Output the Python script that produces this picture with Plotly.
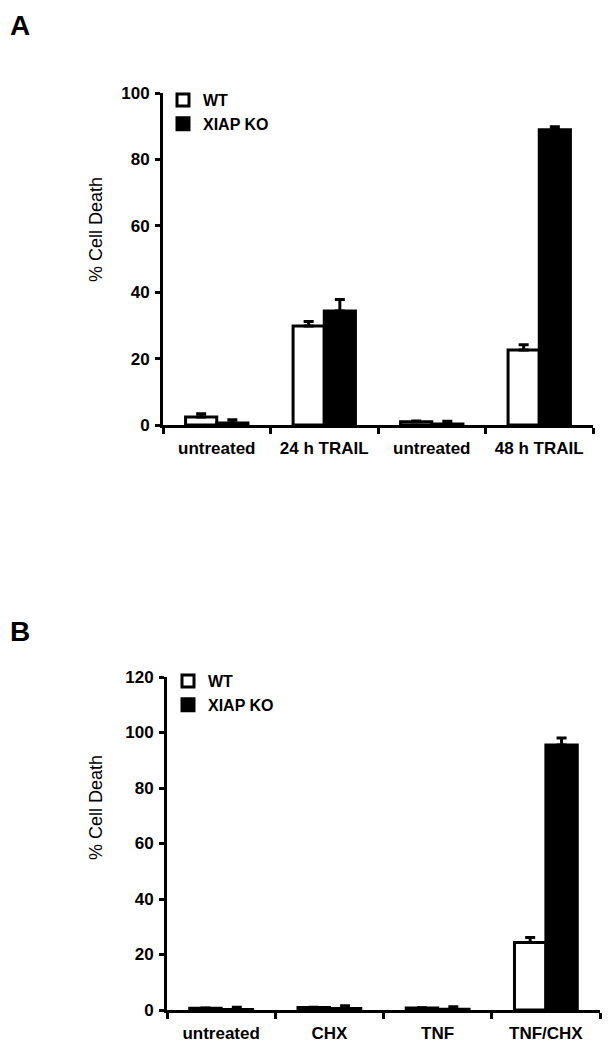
import plotly.graph_objects as go

# ---- Data ----
cats_a = ["untreated", "24 h TRAIL", "untreated", "48 h TRAIL"]
wt_a = [2.4, 29.8, 1.0, 22.6]
wt_a_err = [1.0, 1.4, 0.2, 1.6]
ko_a = [0.6, 34.3, 0.3, 88.9]
ko_a_err = [1.0, 3.5, 0.8, 0.9]

cats_b = ["untreated", "CHX", "TNF", "TNF/CHX"]
wt_b = [0.6, 0.9, 0.7, 24.3]
wt_b_err = [0.1, 0.1, 0.1, 1.8]
ko_b = [0.2, 0.5, 0.3, 95.5]
ko_b_err = [0.8, 1.0, 0.9, 2.5]

series_names = ["WT", "XIAP KO"]
yticks_a = [0, 20, 40, 60, 80, 100]
yticks_b = [0, 20, 40, 60, 80, 100, 120]
y_title = "% Cell Death"

FONT = "Liberation Sans, Arial, Helvetica, sans-serif"
# page body has an 8px margin: size the figure so it fits the 610x1050 window
OFF = 8
W, H = 610 - OFF, 1050 - OFF


def px(x):
    return (x - OFF) / W


def py(y):
    return 1 - (y - OFF) / H


pos_a = list(range(len(cats_a)))
pos_b = list(range(len(cats_b)))


def err(vals):
    return dict(type="data", array=vals, arrayminus=[0] * len(vals), symmetric=False,
                color="black", thickness=3, width=5)


fig = go.Figure()
fig.add_trace(go.Bar(x=pos_a, y=wt_a, name=series_names[0], xaxis="x", yaxis="y",
                     marker=dict(color="white", line=dict(color="black", width=3)),
                     error_y=err(wt_a_err), legend="legend"))
fig.add_trace(go.Bar(x=pos_a, y=ko_a, name=series_names[1], xaxis="x", yaxis="y",
                     marker=dict(color="black", line=dict(color="black", width=3)),
                     error_y=err(ko_a_err), legend="legend"))
fig.add_trace(go.Bar(x=pos_b, y=wt_b, name=series_names[0], xaxis="x2", yaxis="y2",
                     marker=dict(color="white", line=dict(color="black", width=3)),
                     error_y=err(wt_b_err), legend="legend2"))
fig.add_trace(go.Bar(x=pos_b, y=ko_b, name=series_names[1], xaxis="x2", yaxis="y2",
                     marker=dict(color="black", line=dict(color="black", width=3)),
                     error_y=err(ko_b_err), legend="legend2"))

tickfont = dict(family=FONT, size=17, color="black", weight="bold")


def xax(domain, anchor, cats):
    return dict(domain=domain, anchor=anchor, range=[-0.5, len(cats) - 0.5],
                tickmode="array", tickvals=list(range(len(cats))), ticktext=cats,
                ticks="", showline=True, linewidth=3, linecolor="black",
                tickfont=tickfont, ticklabelstandoff=6, showgrid=False, zeroline=False,
                minor=dict(tickmode="array", tickvals=[i - 0.5 for i in range(len(cats) + 1)],
                           ticks="outside", ticklen=6, tickwidth=3, tickcolor="black"),
                automargin=False, fixedrange=True)


def yax(domain, anchor, ticks, top):
    return dict(domain=domain, anchor=anchor, range=[0, top],
                tickmode="array", tickvals=ticks,
                ticks="outside", ticklen=5, tickwidth=3, tickcolor="black",
                showline=True, linewidth=3, linecolor="black",
                tickfont=tickfont, ticklabelstandoff=2, showgrid=False, zeroline=False,
                automargin=False, fixedrange=True)


legfont = dict(family=FONT, size=16, color="black", weight="bold")
title_font = dict(family=FONT, size=18, color="black")
label_font = dict(family=FONT, size=28, color="black", weight="bold")

fig.update_layout(
    width=W, height=H,
    margin=dict(l=0, r=0, t=0, b=0),
    paper_bgcolor="white", plot_bgcolor="white",
    barmode="group", bargap=0.42, bargroupgap=0,
    xaxis=xax([px(163), px(593)], "y", cats_a),
    yaxis=yax([py(425), py(93)], "x", yticks_a, 100),
    xaxis2=xax([px(167), px(600)], "y2", cats_b),
    yaxis2=yax([py(1010), py(677)], "x2", yticks_b, 120),
    legend=dict(x=px(163), y=py(83), xanchor="left", yanchor="top",
                bgcolor="rgba(0,0,0,0)", itemwidth=30, tracegroupgap=0, font=legfont),
    legend2=dict(x=px(168), y=py(664), xanchor="left", yanchor="top",
                 bgcolor="rgba(0,0,0,0)", itemwidth=30, tracegroupgap=0, font=legfont),
    annotations=[
        dict(text=y_title, x=px(96), y=py(230), xref="paper", yref="paper",
             xanchor="center", yanchor="middle", textangle=-90, showarrow=False,
             font=title_font),
        dict(text=y_title, x=px(96), y=py(808), xref="paper", yref="paper",
             xanchor="center", yanchor="middle", textangle=-90, showarrow=False,
             font=title_font),
        dict(text="A", x=0, y=py(8), xref="paper", yref="paper",
             xanchor="left", yanchor="top", showarrow=False, font=label_font),
        dict(text="B", x=0, y=py(614), xref="paper", yref="paper",
             xanchor="left", yanchor="top", showarrow=False, font=label_font),
    ],
)

fig.write_html("out.html")
